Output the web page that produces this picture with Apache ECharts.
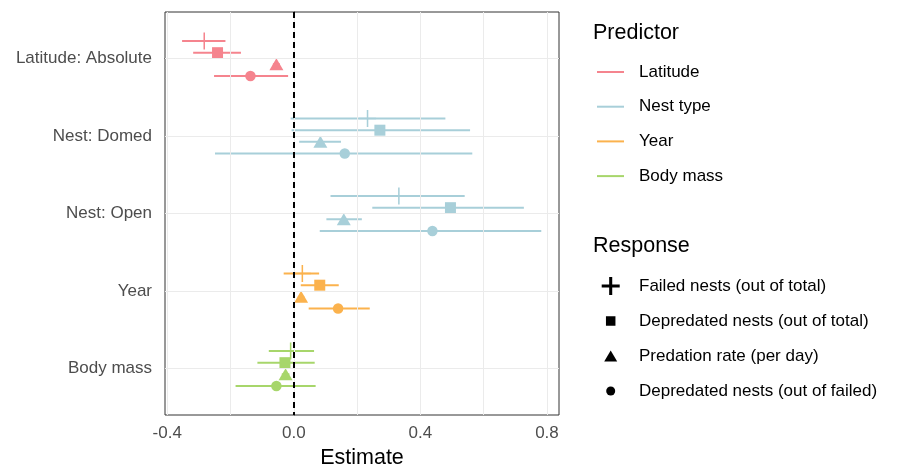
<!DOCTYPE html>
<html>
<head>
<meta charset="utf-8">
<script src="https://cdn.jsdelivr.net/npm/echarts@6/dist/echarts.min.js"></script>
<style>
html, body { margin: 0; padding: 0; background: #fff; }
#chart { width: 906px; height: 468px; }
</style>
</head>
<body>
<div id="chart"></div>
<script>
var predictors = ['Latitude: Absolute', 'Nest: Domed', 'Nest: Open', 'Year', 'Body mass'];
var predictorGroup = ['Latitude', 'Nest type', 'Nest type', 'Year', 'Body mass'];
var groups = ['Latitude', 'Nest type', 'Year', 'Body mass'];
var responses = ['Failed nests (out of total)', 'Depredated nests (out of total)', 'Predation rate (per day)', 'Depredated nests (out of failed)'];

// estimate and interval per response, one value per predictor row
var failedTotal     = [-0.283, 0.233, 0.332, 0.027, -0.010];
var failedTotalLow  = [-0.353, -0.010, 0.116, -0.032, -0.079];
var failedTotalHigh = [-0.216, 0.479, 0.540, 0.080, 0.064];
var depTotal     = [-0.241, 0.272, 0.495, 0.082, -0.028];
var depTotalLow  = [-0.318, -0.007, 0.248, 0.022, -0.115];
var depTotalHigh = [-0.167, 0.557, 0.727, 0.142, 0.066];
var predRate     = [-0.055, 0.084, 0.158, 0.023, -0.026];
var predRateLow  = [-0.066, 0.017, 0.103, 0.013, -0.038];
var predRateHigh = [-0.044, 0.149, 0.215, 0.033, -0.014];
var depFailed     = [-0.137, 0.161, 0.438, 0.140, -0.055];
var depFailedLow  = [-0.252, -0.249, 0.082, 0.047, -0.184];
var depFailedHigh = [-0.018, 0.564, 0.782, 0.240, 0.069];

var xTicks = [-0.4, 0, 0.4, 0.8];
var xGrid = [-0.4, -0.2, 0, 0.2, 0.4, 0.6, 0.8];

var groupColors = ['#f5848e', '#a8cfd9', '#fbb24d', '#a7d66b'];
var font = 'Liberation Sans, Arial, sans-serif';

var est = [failedTotal, depTotal, predRate, depFailed];
var low = [failedTotalLow, depTotalLow, predRateLow, depFailedLow];
var high = [failedTotalHigh, depTotalHigh, predRateHigh, depFailedHigh];
var rows = predictors.map(function (p, i) { return i; });
var dodge = 0.15;
function offset(r) { return (r - 1.5) * dodge; }

var plusPath = 'path://M9.1,0H10.9V9.1H20V10.9H10.9V20H9.1V10.9H0V9.1H9.1Z';
var plusLegend = 'path://M8.3,0H11.7V8.3H20V11.7H11.7V20H8.3V11.7H0V8.3H8.3Z';
var symbols = [plusPath, 'rect', 'triangle', 'circle'];
var symbolSizes = [17, 11, [14, 12], 10.5];
var legendIcons = [plusLegend, 'rect', 'triangle', 'circle'];
var legendSizes = [[18, 18], [9.5, 9.5], [13, 11], [9, 9]];
var legendCenters = [285, 320, 355, 390];

var series = [];

// grid lines
series.push({
  name: 'grid', type: 'line', data: [], z: 1,
  markLine: {
    silent: true, symbol: 'none', animation: false,
    label: {show: false},
    lineStyle: {color: '#ebebeb', width: 1, type: 'solid'},
    data: xGrid.map(function (v) { return {xAxis: v}; })
      .concat(rows.map(function (v) { return {yAxis: v}; }))
  }
});

// error bars, one series per predictor group
groups.forEach(function (g, gi) {
  var data = [];
  rows.forEach(function (row) {
    if (predictorGroup[row] !== g) return;
    for (var r = 0; r < responses.length; r++) {
      data.push([low[r][row], high[r][row], row + offset(r)]);
    }
  });
  series.push({
    name: g, type: 'custom', z: 2,
    itemStyle: {color: groupColors[gi]},
    data: data,
    encode: {x: [0, 1], y: 2},
    renderItem: function (params, api) {
      var a = api.coord([api.value(0), api.value(2)]);
      var b = api.coord([api.value(1), api.value(2)]);
      return {
        type: 'line',
        shape: {x1: a[0], y1: a[1], x2: b[0], y2: b[1]},
        style: {stroke: groupColors[gi], lineWidth: 2}
      };
    }
  });
});

// points, one series per response
responses.forEach(function (name, r) {
  series.push({
    name: name, type: 'scatter', z: 3,
    symbol: symbols[r], symbolSize: symbolSizes[r],
    itemStyle: {color: '#000', opacity: 1},
    data: rows.map(function (row) {
      return {
        value: [est[r][row], row + offset(r)],
        itemStyle: {color: groupColors[groups.indexOf(predictorGroup[row])]}
      };
    })
  });
});

// zero reference line
series.push({
  name: 'zero', type: 'line', data: [], z: 10,
  markLine: {
    silent: true, symbol: 'none', animation: false,
    label: {show: false},
    lineStyle: {color: '#000', width: 2, type: [6, 4]},
    data: [{xAxis: 0}]
  }
});

var legends = [{
  left: 597, top: 62, padding: 0, orient: 'vertical',
  itemGap: 14.7, itemWidth: 27, itemHeight: 2, selectedMode: false,
  data: groups.map(function (g, i) {
    return {name: g, icon: 'rect', itemStyle: {color: groupColors[i]}};
  }),
  textStyle: {fontSize: 17, color: '#000', fontFamily: font, lineHeight: 20, padding: [0, 0, 0, 10]}
}];
responses.forEach(function (name, r) {
  var w = legendSizes[r][0], h = legendSizes[r][1];
  var left = 610.7 - w / 2;
  legends.push({
    left: left, top: legendCenters[r] - 9, padding: 0,
    itemWidth: w, itemHeight: h, selectedMode: false,
    data: [{name: name, icon: legendIcons[r], itemStyle: {color: '#000'}}],
    textStyle: {fontSize: 17, color: '#000', fontFamily: font, lineHeight: 20,
      padding: [0, 0, 0, 639 - (left + w + 5)]}
  });
});

var myChart = echarts.init(document.getElementById('chart'));
var option = {
  animation: false,
  textStyle: {fontFamily: font},
  grid: {
    left: 165, top: 12, width: 394, height: 403,
    outerBoundsMode: 'none', containLabel: false,
    show: true, borderColor: '#333', borderWidth: 1, backgroundColor: '#fff'
  },
  xAxis: {
    type: 'value', min: -0.407, max: 0.838,
    axisLine: {show: true, lineStyle: {color: '#333'}},
    axisTick: {show: true, length: 5, customValues: xTicks, lineStyle: {color: '#333'}},
    axisLabel: {
      customValues: xTicks, fontSize: 17, color: '#4d4d4d', margin: 10,
      formatter: function (v) { return v.toFixed(1); }
    },
    splitLine: {show: false},
    name: 'Estimate', nameLocation: 'middle', nameGap: 28,
    nameTextStyle: {fontSize: 21.5, color: '#000'}
  },
  yAxis: {
    type: 'value', inverse: true, min: -0.6, max: 4.6,
    axisLine: {show: true, lineStyle: {color: '#333'}},
    axisTick: {show: true, length: 5, customValues: rows, lineStyle: {color: '#333'}},
    axisLabel: {
      customValues: rows, fontSize: 17, color: '#4d4d4d', margin: 13,
      padding: [3, 0, 0, 0],
      formatter: function (v) { return predictors[Math.round(v)]; }
    },
    splitLine: {show: false}
  },
  legend: legends,
  graphic: [
    {type: 'text', left: 593, top: 22, style: {text: 'Predictor', fontSize: 21.5, fill: '#000', fontFamily: font}},
    {type: 'text', left: 593, top: 235, style: {text: 'Response', fontSize: 21.5, fill: '#000', fontFamily: font}}
  ],
  series: series
};
myChart.setOption(option);
</script>
</body>
</html>
